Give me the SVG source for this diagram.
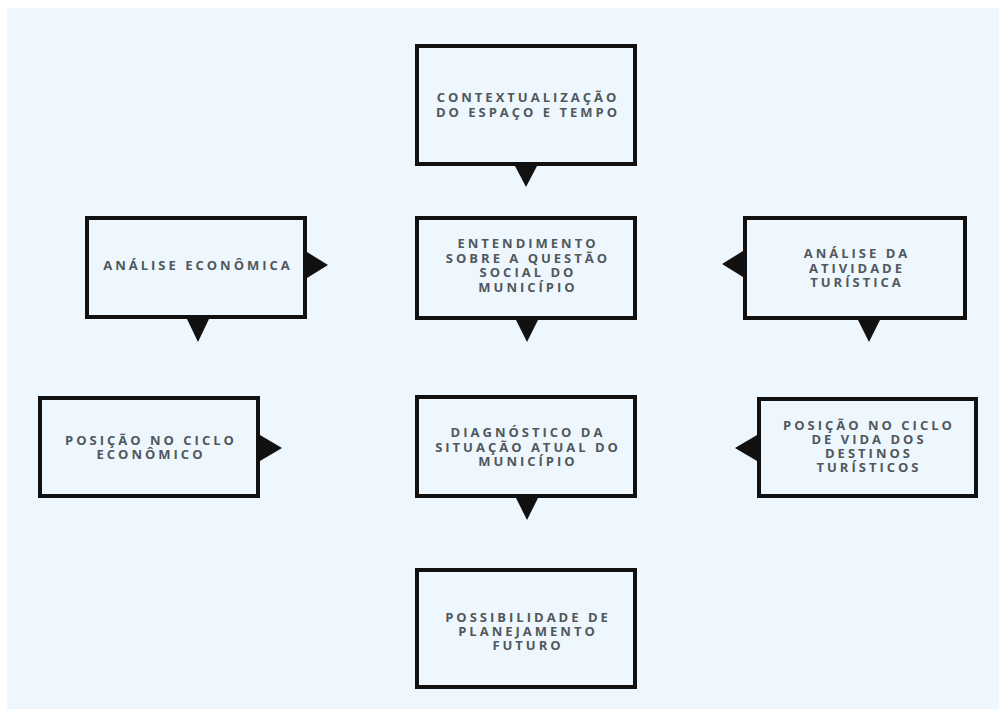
<svg xmlns="http://www.w3.org/2000/svg" width="999" height="709" viewBox="0 0 999 709">
<style>
.box{fill:#eef7fd;stroke:#111;stroke-width:4}
.t{font-family:"Open Sans","Liberation Sans",sans-serif;font-weight:700;font-size:13px;letter-spacing:3px;fill:#51575d;text-anchor:middle}
.arr{fill:#111}
</style>
<rect x="0" y="0" width="999" height="709" fill="#ffffff"/>
<rect x="7" y="8" width="992" height="701" fill="#eef7fd"/>
<g id="connectors">
<polygon class="arr" points="515,166 537,166 526,187"/>
<polygon class="arr" points="307,252 328,265 307,278"/>
<polygon class="arr" points="187,319 209,319 198,342"/>
<polygon class="arr" points="516,320 538,320 527,342"/>
<polygon class="arr" points="743,251 722,264 743,277"/>
<polygon class="arr" points="858,320 880,320 869,342"/>
<polygon class="arr" points="260,435 282,448 260,461"/>
<polygon class="arr" points="516,498 538,498 527,520"/>
<polygon class="arr" points="757,435 735,448 757,461"/>
</g>
<g id="n1"><rect class="box" x="417" y="46" width="218" height="118"/>
<text class="t"><tspan x="528" y="102">CONTEXTUALIZAÇÃO</tspan><tspan x="528" y="117">DO ESPAÇO E TEMPO</tspan></text></g>
<g id="n2"><rect class="box" x="87" y="218" width="218" height="99"/>
<text class="t"><tspan x="198" y="270">ANÁLISE ECONÔMICA</tspan></text></g>
<g id="n3"><rect class="box" x="417" y="218" width="218" height="100"/>
<text class="t"><tspan x="528" y="248">ENTENDIMENTO</tspan><tspan x="528" y="262.5">SOBRE A QUESTÃO</tspan><tspan x="528" y="277">SOCIAL DO</tspan><tspan x="528" y="291.5">MUNICÍPIO</tspan></text></g>
<g id="n4"><rect class="box" x="745" y="218" width="220" height="100"/>
<text class="t"><tspan x="857" y="258">ANÁLISE DA</tspan><tspan x="857" y="272.5">ATIVIDADE</tspan><tspan x="857" y="287">TURÍSTICA</tspan></text></g>
<g id="n5"><rect class="box" x="40" y="398" width="218" height="98"/>
<text class="t"><tspan x="151" y="445">POSIÇÃO NO CICLO</tspan><tspan x="151" y="459">ECONÔMICO</tspan></text></g>
<g id="n6"><rect class="box" x="417" y="397" width="218" height="99"/>
<text class="t"><tspan x="528" y="437">DIAGNÓSTICO DA</tspan><tspan x="528" y="451.5">SITUAÇÃO ATUAL DO</tspan><tspan x="528" y="466">MUNICÍPIO</tspan></text></g>
<g id="n7"><rect class="box" x="759" y="399" width="217" height="97"/>
<text class="t"><tspan x="869" y="430">POSIÇÃO NO CICLO</tspan><tspan x="869" y="444">DE VIDA DOS</tspan><tspan x="869" y="458">DESTINOS</tspan><tspan x="869" y="472">TURÍSTICOS</tspan></text></g>
<g id="n8"><rect class="box" x="417" y="570" width="218" height="117"/>
<text class="t"><tspan x="528" y="622">POSSIBILIDADE DE</tspan><tspan x="528" y="636">PLANEJAMENTO</tspan><tspan x="528" y="650">FUTURO</tspan></text></g>
</svg>
